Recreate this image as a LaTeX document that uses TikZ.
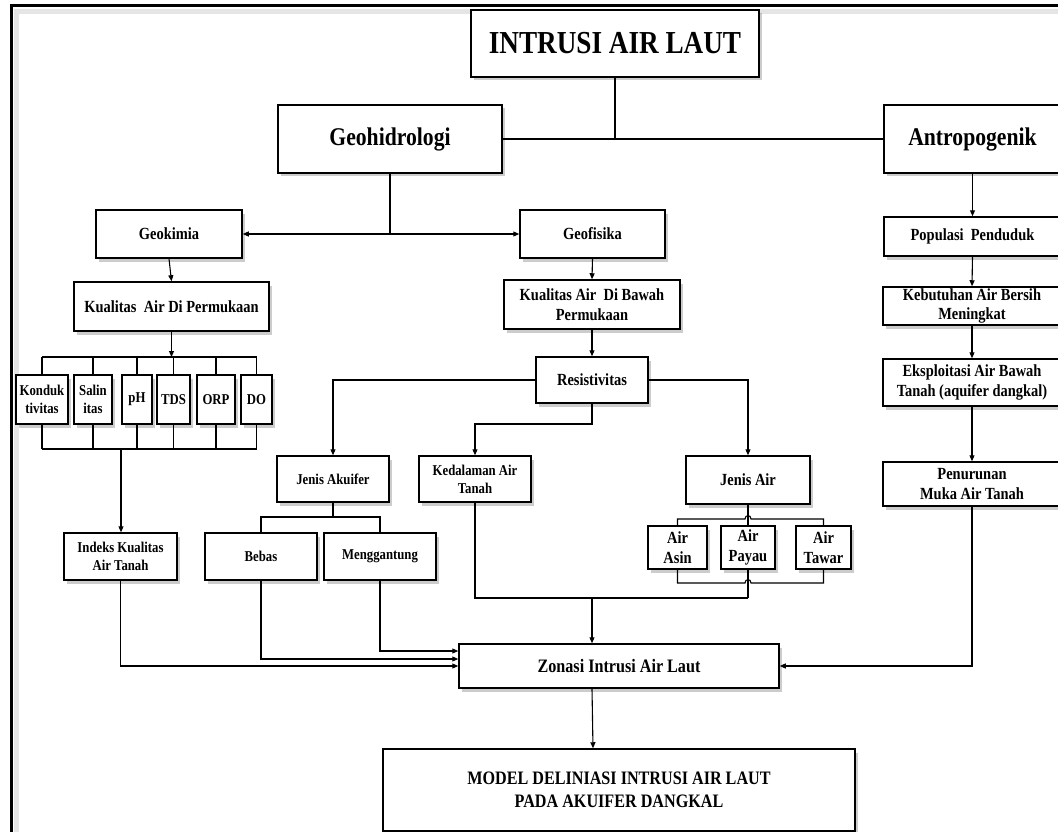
\documentclass[tikz,border=0pt]{standalone}
\usepackage{fontspec}
\setmainfont{Liberation Serif}[FakeStretch=0.85]
\usetikzlibrary{arrows.meta,shadows}
\begin{document}
\begin{tikzpicture}[x=1pt,y=-1pt,
  box/.style={draw, line width=1.5pt, fill=white, align=center, inner sep=0pt,
    drop shadow={shadow xshift=3pt, shadow yshift=-3.5pt, fill=black, opacity=0.2}},
  fA/.style={font=\fontsize{32pt}{38pt}\selectfont\bfseries},
  fB/.style={font=\fontsize{25.5pt}{30pt}\selectfont\bfseries},
  fC/.style={font=\fontsize{19pt}{23pt}\selectfont\bfseries},
  fD/.style={font=\fontsize{17pt}{19.5pt}\selectfont\bfseries},
  fE/.style={font=\fontsize{15pt}{18pt}\selectfont\bfseries},
  conn/.style={line width=1.1pt},
  arr/.style={conn, -{Triangle[length=6pt,width=5pt]}},
  darr/.style={conn, {Triangle[length=6pt,width=5pt]}-{Triangle[length=6pt,width=5pt]}},
]
\useasboundingbox (0,0) rectangle (1058,832);
% frame
\draw[black!10, line width=5pt] (16.5,845) -- (16.5,11.5) -- (1070,11.5);
\draw[line width=3pt] (11,845) -- (11,6) -- (1070,6);

% top level
\node[box,fA,minimum width=288,minimum height=67] (title) at (615,43.5) {INTRUSI AIR LAUT};
\node[box,fB,minimum width=224,minimum height=68] (geo) at (390,139) {Geohidrologi};
\node[box,fB,minimum width=177,minimum height=68] (antro) at (972.5,139) {Antropogenik};

% second level
\node[box,fD,minimum width=146,minimum height=48] (geokimia) at (169,234) {Geokimia};
\node[box,fD,minimum width=145,minimum height=48] (geofisika) at (592.5,234) {Geofisika};
\node[box,fD,minimum width=177,minimum height=39] (populasi) at (972.5,236.5) {Populasi~~Penduduk};

\node[box,fD,minimum width=195,minimum height=49] (kualp) at (171.5,306.5) {Kualitas~~Air Di Permukaan};
\node[box,fD,minimum width=176,minimum height=49] (kualb) at (592,304.5) {Kualitas Air~~Di Bawah\\Permukaan};
\node[box,fD,minimum width=178,minimum height=38] (kebutuhan) at (972,306) {Kebutuhan Air Bersih\\Meningkat};

\node[box,fD,minimum width=112,minimum height=46] (resist) at (592,380) {Resistivitas};
\node[box,fD,minimum width=178,minimum height=47] (eksploitasi) at (972,382.5) {Eksploitasi Air Bawah\\Tanah (aquifer dangkal)};

% parameters
\node[box,fE,minimum width=52,minimum height=49] (k1) at (42,399.5) {Konduk\\tivitas};
\node[box,fE,minimum width=38,minimum height=49] (k2) at (93,399.5) {Salin\\itas};
\node[box,fE,minimum width=30,minimum height=49] (k3) at (137,399.5) {pH};
\node[box,fE,minimum width=33,minimum height=49] (k4) at (173.5,399.5) {TDS};
\node[box,fE,minimum width=38,minimum height=49] (k5) at (216,399.5) {ORP};
\node[box,fE,minimum width=31,minimum height=49] (k6) at (256.5,399.5) {DO};

\node[box,fE,minimum width=112,minimum height=46] (jakuifer) at (333,479) {Jenis Akuifer};
\node[box,fE,minimum width=112,minimum height=46] (kedalaman) at (475,479) {Kedalaman Air\\Tanah};
\node[box,fD,minimum width=124,minimum height=48] (jair) at (748,480) {Jenis Air};
\node[box,fD,minimum width=178,minimum height=44] (penurunan) at (972,484) {Penurunan\\Muka Air Tanah};

\node[box,fD,minimum width=59,minimum height=43] (asin) at (677.5,547.5) {Air\\Asin};
\node[box,fD,minimum width=54,minimum height=43] (payau) at (748,547.5) {Air\\Payau};
\node[box,fD,minimum width=55,minimum height=43] (tawar) at (823.5,547.5) {Air\\Tawar};

\node[box,fE,minimum width=113,minimum height=47] (indeks) at (120.5,556.5) {Indeks Kualitas\\Air Tanah};
\node[box,fE,minimum width=112,minimum height=47] (bebas) at (261,556.5) {Bebas};
\node[box,fE,minimum width=112,minimum height=47] (gantung) at (380,556.5) {Menggantung};

\node[box,fC,minimum width=320,minimum height=44] (zonasi) at (619,666) {Zonasi Intrusi Air Laut};
\node[box,fC,minimum width=472,minimum height=82] (model) at (619,790) {MODEL DELINIASI INTRUSI AIR LAUT\\PADA AKUIFER DANGKAL};

% connectors top
\draw[conn] (title.south) -- (title.south |- geo.east);
\draw[conn] (geo.east) -- (antro.west);
\draw[conn] (geo.south) -- (geo.south |- geokimia.east);
\draw[darr] (geokimia.east) -- (geofisika.west);
\draw[arr] (antro.south) -- (populasi.north);
\draw[arr] (populasi.south) -- (kebutuhan.north);
\draw[arr] (kebutuhan.south) -- (eksploitasi.north);
\draw[arr] (eksploitasi.south) -- (penurunan.north);

% geokimia branch
\draw[arr] (geokimia.south) -- (kualp.north);
\coordinate (bt) at (173,357);
\coordinate (bb) at (121,449);
\draw[arr] (kualp.south) -- (kualp.south |- bt);
\draw[conn] (k1.north |- bt) -- (k6.north |- bt);
\draw[conn] (k1.south |- bb) -- (k6.south |- bb);
\foreach \k in {k1,k2,k3,k4,k5,k6}{
  \draw[conn] (\k.north) -- (\k.north |- bt);
  \draw[conn] (\k.south) -- (\k.south |- bb);
}
\draw[arr] (bb) -- (bb |- indeks.north);

% geofisika branch
\draw[arr] (geofisika.south) -- (kualb.north);
\draw[arr] (kualb.south) -- (resist.north);
\draw[arr] (resist.west) -| (jakuifer.north);
\coordinate (rs) at (592,424);
\draw[arr] (resist.south) -- (rs) -| (kedalaman.north);
\draw[arr] (resist.east) -| (jair.north);

\coordinate (ja) at (333,517);
\draw[conn] (jakuifer.south) -- (ja);
\draw[conn] (bebas.north) |- (ja) -| (gantung.north);

% jenis air buses with hops
\coordinate (tb) at (748,519);
\coordinate (lb) at (748,583);
\draw[conn] (jair.south) -- (payau.north);
\draw[conn] (asin.north) -- (asin.north |- tb) -- ([xshift=-3pt]tb)
  .. controls ([xshift=-3pt,yshift=4.5pt]tb) and ([xshift=3pt,yshift=4.5pt]tb) .. ([xshift=3pt]tb)
  -- (tawar.north |- tb) -- (tawar.north);
\draw[conn] (asin.south) -- (asin.south |- lb) -- ([xshift=-3pt]lb)
  .. controls ([xshift=-3pt,yshift=4.5pt]lb) and ([xshift=3pt,yshift=4.5pt]lb) .. ([xshift=3pt]lb)
  -- (tawar.south |- lb) -- (tawar.south);
\coordinate (col) at (748,598);
\coordinate (cz) at (592,598);
\draw[conn] (payau.south) -- (col);
\draw[conn] (kedalaman.south) |- (col);
\draw[arr] (cz) -- (cz |- zonasi.north);

% into zonasi
\draw[arr] (gantung.south) |- ([yshift=15pt]zonasi.west);
\draw[arr] (bebas.south) |- ([yshift=7pt]zonasi.west);
\draw[arr] (indeks.south) |- (zonasi.west);
\draw[arr] (penurunan.south) |- (zonasi.east);
\draw[arr] ([xshift=-27pt]zonasi.south) -- ([xshift=-26pt]model.north);
\end{tikzpicture}
\end{document}
